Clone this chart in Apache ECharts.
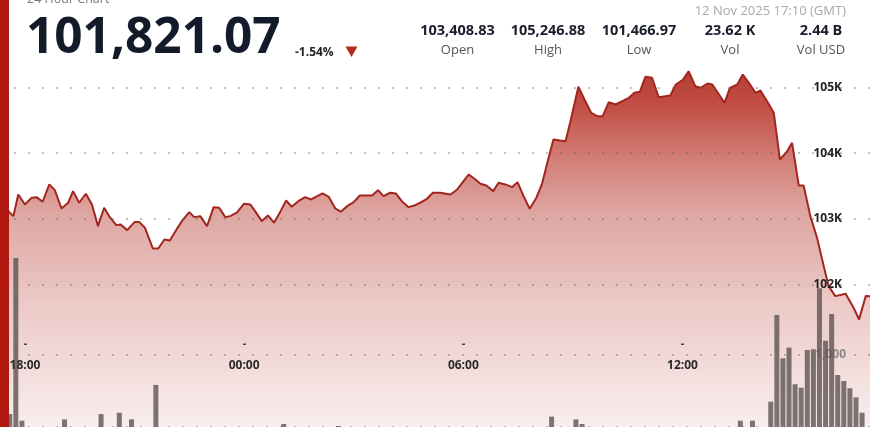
<!DOCTYPE html>
<html><head><meta charset="utf-8">
<script src="https://cdn.jsdelivr.net/npm/echarts@6/dist/echarts.min.js"></script>
<style>html,body{margin:0;padding:0;background:#fff}#c{width:870px;height:427px}</style>
</head><body><div id="c"></div>
<script>
// ---- data ----
const chartTitle = '24 Hour Chart';
const lastPrice = '101,821.07';
const changePct = '-1.54%';
const stamp = '12 Nov 2025 17:10 (GMT)';
const statValues = ['103,408.83', '105,246.88', '101,466.97', '23.62 K', '2.44 B'];
const statLabels = ['Open', 'High', 'Low', 'Vol', 'Vol USD'];

const tickTimes = ['11 18:00', '12 00:00', '12 06:00', '12 12:00'];
const tickLabels = ['18:00', '00:00', '06:00', '12:00'];
const priceTicks = [102000, 103000, 104000, 105000];
const volumeTicks = [0, 1000];

const priceTimes = ['11 17:10','11 17:35','11 17:41','11 17:49','11 18:00','11 18:11','11 18:19','11 18:29','11 18:40','11 18:49',
'11 19:00','11 19:11','11 19:19','11 19:29','11 19:40','11 19:50','11 20:00','11 20:10','11 20:20','11 20:30',
'11 20:37','11 20:48','11 21:00','11 21:08','11 21:17','11 21:30','11 21:39','11 21:49','11 21:58','11 22:09',
'11 22:19','11 22:30','11 22:38','11 22:48','11 22:59','11 23:10','11 23:19','11 23:29','11 23:37','11 23:48',
'12 00:00','12 00:10','12 00:18','12 00:29','12 00:39','12 00:49','12 00:59','12 01:09','12 01:18','12 01:29',
'12 01:40','12 01:50','12 02:00','12 02:09','12 02:19','12 02:30','12 02:39','12 02:49','12 03:00','12 03:10',
'12 03:22','12 03:30','12 03:40','12 03:49','12 04:00','12 04:09','12 04:19','12 04:30','12 04:41','12 04:49',
'12 04:59','12 05:10','12 05:22','12 05:39','12 05:50','12 06:09','12 06:20','12 06:28','12 06:38','12 06:49',
'12 06:58','12 07:09','12 07:20','12 07:29','12 07:39','12 07:49','12 08:00','12 08:09','12 08:18','12 08:28',
'12 08:39','12 08:48','12 08:56','12 09:09','12 09:19','12 09:30','12 09:40','12 09:49','12 09:59','12 10:10',
'12 10:21','12 10:32','12 10:41','12 10:50','12 10:59','12 11:10','12 11:21','12 11:40','12 11:49','12 12:00',
'12 12:10','12 12:21','12 12:30','12 12:41','12 12:49','12 13:00','12 13:09','12 13:18','12 13:30','12 13:39',
'12 13:49','12 14:00','12 14:08','12 14:19','12 14:30','12 14:40','12 14:51','12 15:00','12 15:11','12 15:19',
'12 15:30','12 15:41','12 15:52','12 16:00','12 16:11','12 16:28','12 16:41','12 16:50','12 17:01','12 17:10'];
const prices = [103409,103093,103041,103371,103219,103321,103330,103260,103524,103437,
103158,103245,103422,103245,103382,103219,102889,103169,103017,102904,
102915,102828,102950,102950,102865,102549,102549,102686,102671,102839,
102980,103102,103026,103041,102889,103178,103169,103026,103041,103093,
103230,103219,103117,102965,103052,102941,103102,103280,103184,103269,
103330,103295,103345,103387,103336,103154,103108,103193,103254,103356,
103356,103356,103437,103345,103397,103387,103269,103178,103208,103245,
103295,103397,103397,103371,103447,103676,103600,103534,103508,103422,
103549,103524,103482,103559,103345,103154,103321,103524,103854,104209,
104193,104183,104487,105011,104817,104615,104563,104563,104776,104741,
104791,104843,104919,104935,105163,105148,104852,104878,105046,105111,
105247,105020,104995,105061,105046,104893,104767,104995,105046,105198,
105072,104919,104954,104791,104615,103904,104015,104158,103508,103508,
103041,102712,102280,101976,101823,101860,101647,101467,101823,101821];

const volTimes = ['11 17:35','11 17:45','11 17:55','11 19:05','11 20:05','11 20:35','11 20:55','11 21:35','12 01:05','12 02:35',
'12 08:25','12 09:05','12 09:15','12 13:35','12 13:55','12 14:25','12 14:35','12 14:45','12 14:55','12 15:05',
'12 15:15','12 15:25','12 15:35','12 15:45','12 15:55','12 16:05','12 16:15','12 16:25','12 16:35','12 16:45','12 16:55'];
const volumes = [180,2348,88,106,180,198,106,584,42,14,
144,106,42,88,88,352,1556,954,1102,594,
546,1070,1080,1926,1198,1570,722,638,538,412,198];

// ---- helpers ----
function toMin(s) { // minutes after 11 Nov 18:00
  const [d, hm] = s.split(' ');
  const [h, m] = hm.split(':').map(Number);
  return (Number(d) - 11) * 1440 + h * 60 + m - 18 * 60;
}
const X_MIN = -41, X_MAX = 1388;
const H = 427;
const PRICE_TOP_PX = 87.5, PRICE_BOTTOM_PX = 284.5;
const pxPerUnit = (PRICE_BOTTOM_PX - PRICE_TOP_PX) / (priceTicks[priceTicks.length - 1] - priceTicks[0]);
const yMax0 = priceTicks[priceTicks.length - 1] + PRICE_TOP_PX / pxPerUnit;
const yMin0 = priceTicks[0] - (H - PRICE_BOTTOM_PX) / pxPerUnit;
const tickVals = tickTimes.map(toMin);

const priceData = priceTimes.map((t, i) => [toMin(t), prices[i]]);
const volData = volTimes.map((t, i) => [toMin(t), volumes[i]]);

const dotted = { type: [2, 12], color: 'rgba(105,105,105,0.55)', width: 1.5 };
const FF = '"Open Sans", sans-serif';

const chart = echarts.init(document.getElementById('c'), null, { renderer: 'canvas' });

const statX = [457.5, 548, 639, 730, 821];
const graphics = [
  { type: 'rect', z: 100, shape: { x: 0, y: 0, width: 9, height: H }, style: { fill: '#b1180f' } },
  { type: 'text', z: 100, x: 27, y: -1, style: { text: chartTitle, font: '12.5px ' + FF, fill: '#777', verticalAlign: 'middle' } },
  { type: 'text', z: 100, x: 26, y: 39, style: { text: lastPrice, font: 'bold 49.5px ' + FF, fill: '#131a2a', verticalAlign: 'middle' } },
  { type: 'text', z: 100, x: 295, y: 52.5, style: { text: changePct, font: 'bold 12px ' + FF, fill: '#222', verticalAlign: 'middle' } },
  { type: 'polygon', z: 100, shape: { points: [[345.5, 46.5], [357.5, 46.5], [351.5, 57]] }, style: { fill: '#b5281c' } },
  { type: 'text', z: 100, x: 846, y: 11.5, style: { text: stamp, font: '13px ' + FF, fill: '#a8a8a8', align: 'right', verticalAlign: 'middle' } }
];
statValues.forEach((v, i) => {
  graphics.push({ type: 'text', z: 100, x: statX[i], y: 31.3, style: { text: v, font: 'bold 14.5px ' + FF, fill: '#1a1d2b', align: 'center', verticalAlign: 'middle' } });
  graphics.push({ type: 'text', z: 100, x: statX[i], y: 50.5, style: { text: statLabels[i], font: '13px ' + FF, fill: '#555', align: 'center', verticalAlign: 'middle' } });
});

chart.setOption({
  animation: false,
  backgroundColor: '#ffffff',
  textStyle: { fontFamily: FF },
  grid: [
    { left: 0, right: 0, top: 0, bottom: 0 },
    { left: 0, right: 0, top: 355, bottom: 0 },
    { left: 0, right: 0, top: 0, height: 345 },
    { left: 0, right: 0, top: PRICE_TOP_PX, height: PRICE_BOTTOM_PX - PRICE_TOP_PX }
  ],
  xAxis: [
    { gridIndex: 0, type: 'value', min: X_MIN, max: X_MAX, show: false },
    { gridIndex: 1, type: 'value', min: X_MIN, max: X_MAX, show: false },
    { gridIndex: 2, type: 'value', min: X_MIN, max: X_MAX, z: 6,
      axisLine: { show: false }, splitLine: { show: false },
      axisTick: { show: true, customValues: tickVals, inside: true, length: 1.5, lineStyle: { width: 3, color: '#444' } },
      axisLabel: { customValues: tickVals, margin: 15, fontSize: 12, fontWeight: 'bold', color: '#2b2b2b',
        formatter: v => tickLabels[tickVals.indexOf(v)] } },
    { gridIndex: 3, type: 'value', min: X_MIN, max: X_MAX, show: false }
  ],
  yAxis: [
    { gridIndex: 0, type: 'value', min: yMin0, max: yMax0, show: false },
    { gridIndex: 1, type: 'value', min: volumeTicks[0], max: volumeTicks[1], interval: volumeTicks[1], position: 'right', z: 2,
      axisLine: { show: false }, axisTick: { show: false },
      splitLine: { show: true, lineStyle: dotted },
      axisLabel: { inside: true, showMinLabel: false, margin: 24, fontSize: 12, fontWeight: 'bold', color: '#8f8a8a',
        formatter: v => v.toLocaleString('en-US') } },
    { gridIndex: 2, type: 'value', min: 0, max: 1, show: false },
    { gridIndex: 3, type: 'value', min: priceTicks[0], max: priceTicks[priceTicks.length - 1], interval: 1000, position: 'right', z: 5,
      axisLine: { show: false }, axisTick: { show: false },
      splitLine: { show: true, lineStyle: dotted },
      axisLabel: { inside: true, margin: 28, fontSize: 12, fontWeight: 'bold', color: '#222',
        formatter: v => (v / 1000) + 'K' } }
  ],
  series: [
    { type: 'line', xAxisIndex: 0, yAxisIndex: 0, data: priceData, showSymbol: false, z: 1,
      lineStyle: { color: '#a3261e', width: 2 },
      areaStyle: { origin: 'start', opacity: 1, color: new echarts.graphic.LinearGradient(0, 70, 0, 427, [
        { offset: 0, color: '#b73c32' },
        { offset: 0.1, color: '#c24e45' },
        { offset: 0.25, color: '#d27e77' },
        { offset: 0.4, color: '#dea6a2' },
        { offset: 0.65, color: '#ebc9c6' },
        { offset: 1, color: '#f9eeee' }
      ], true) } },
    { type: 'bar', xAxisIndex: 1, yAxisIndex: 1, data: volData, barWidth: 5, clip: false, z: 3,
      itemStyle: { color: 'rgba(92,84,82,0.8)' } }
  ],
  graphic: graphics
});
</script></body></html>
